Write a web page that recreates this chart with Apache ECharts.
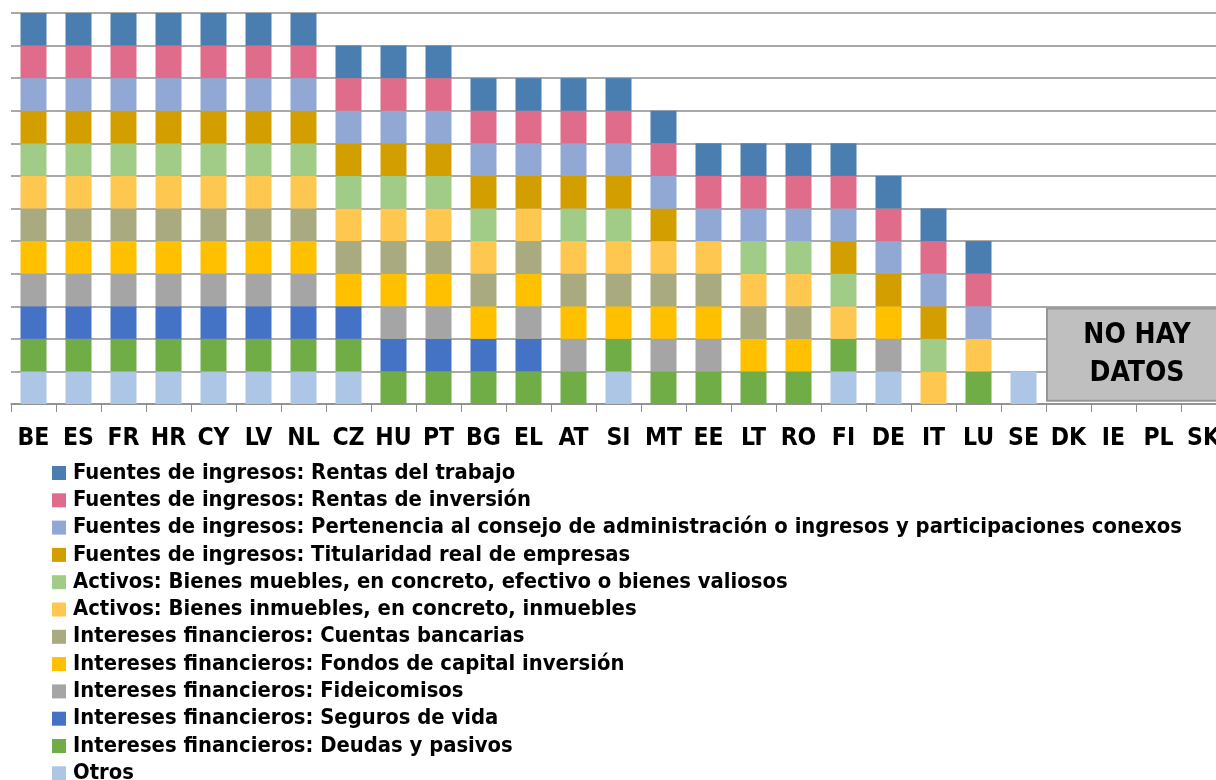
<!DOCTYPE html>
<html>
<head>
<meta charset="utf-8">
<script src="https://cdn.jsdelivr.net/npm/echarts@6/dist/echarts.min.js"></script>
<style>
  html, body { margin: 0; padding: 0; background: #fff; }
  #chart { width: 1216px; height: 780px; }
</style>
</head>
<body>
<div id="chart"></div>
<script>
// Member states, in the order they are shown
const countries = ['BE','ES','FR','HR','CY','LV','NL','CZ','HU','PT','BG','EL','AT','SI','MT','EE','LT','RO','FI','DE','IT','LU','SE','DK','IE','PL','SK'];

// 1 = item covered by the declaration, 0 = not covered (one value per country)
const otros        = [1,1,1,1,1,1,1, 1,0,0,0,0,0,1, 0,0,0,0,1,1,0,0,1, 0,0,0,0];
const deudas       = [1,1,1,1,1,1,1, 1,1,1,1,1,1,1, 1,1,1,1,1,0,0,1,0, 0,0,0,0];
const seguros      = [1,1,1,1,1,1,1, 1,1,1,1,1,0,0, 0,0,0,0,0,0,0,0,0, 0,0,0,0];
const fideicomisos = [1,1,1,1,1,1,1, 0,1,1,0,1,1,0, 1,1,0,0,0,1,0,0,0, 0,0,0,0];
const fondos       = [1,1,1,1,1,1,1, 1,1,1,1,1,1,1, 1,1,1,1,0,1,0,0,0, 0,0,0,0];
const cuentas      = [1,1,1,1,1,1,1, 1,1,1,1,1,1,1, 1,1,1,1,0,0,0,0,0, 0,0,0,0];
const inmuebles    = [1,1,1,1,1,1,1, 1,1,1,1,1,1,1, 1,1,1,1,1,0,1,1,0, 0,0,0,0];
const muebles      = [1,1,1,1,1,1,1, 1,1,1,1,0,1,1, 0,0,1,1,1,0,1,0,0, 0,0,0,0];
const titularidad  = [1,1,1,1,1,1,1, 1,1,1,1,1,1,1, 1,0,0,0,1,1,1,0,0, 0,0,0,0];
const pertenencia  = [1,1,1,1,1,1,1, 1,1,1,1,1,1,1, 1,1,1,1,1,1,1,1,0, 0,0,0,0];
const inversion    = [1,1,1,1,1,1,1, 1,1,1,1,1,1,1, 1,1,1,1,1,1,1,1,0, 0,0,0,0];
const trabajo      = [1,1,1,1,1,1,1, 1,1,1,1,1,1,1, 1,1,1,1,1,1,1,1,0, 0,0,0,0];

// Countries without information
const noData = ['DK','IE','PL','SK'];
const noDataText = 'NO HAY\nDATOS';

// Stack order, bottom to top
const layers = [
  { name: 'Otros', data: otros, color: '#adc6e6' },
  { name: 'Intereses financieros: Deudas y pasivos', data: deudas, color: '#70ad47' },
  { name: 'Intereses financieros: Seguros de vida', data: seguros, color: '#4472c4' },
  { name: 'Intereses financieros: Fideicomisos', data: fideicomisos, color: '#a5a5a5' },
  { name: 'Intereses financieros: Fondos de capital inversión', data: fondos, color: '#ffc000' },
  { name: 'Intereses financieros: Cuentas bancarias', data: cuentas, color: '#a9aa80' },
  { name: 'Activos: Bienes inmuebles, en concreto, inmuebles', data: inmuebles, color: '#fec750' },
  { name: 'Activos: Bienes muebles, en concreto, efectivo o bienes valiosos', data: muebles, color: '#a1cc88' },
  { name: 'Fuentes de ingresos: Titularidad real de empresas', data: titularidad, color: '#d39f00' },
  { name: 'Fuentes de ingresos: Pertenencia al consejo de administración o ingresos y participaciones conexos', data: pertenencia, color: '#91a8d5' },
  { name: 'Fuentes de ingresos: Rentas de inversión', data: inversion, color: '#df6c8a' },
  { name: 'Fuentes de ingresos: Rentas del trabajo', data: trabajo, color: '#4a7eb0' }
];

const FONT = "'DejaVu Sans Condensed', 'DejaVu Sans', sans-serif";

const chart = echarts.init(document.getElementById('chart'), null, { renderer: 'canvas' });

const option = {
  animation: false,
  backgroundColor: '#ffffff',
  grid: { left: 11, top: 13, width: 1215, height: 391, containLabel: false, outerBoundsMode: 'none' },
  legend: {
    orient: 'vertical',
    left: 52,
    top: 462,
    width: 1160,
    height: 400,
    padding: 0,
    itemWidth: 14,
    itemHeight: 14,
    itemGap: 5.3,
    icon: 'rect',
    data: layers.map(l => l.name).reverse(),
    textStyle: { fontFamily: FONT, fontWeight: 'bold', fontSize: 21.8, lineHeight: 16, color: '#000', padding: [0, 0, 0, 2] }
  },
  xAxis: {
    type: 'category',
    data: countries,
    axisLine: { show: true, lineStyle: { color: '#8c8c8c', width: 1.5 } },
    axisTick: { show: true, alignWithLabel: false, length: 8, lineStyle: { color: '#8c8c8c' } },
    axisLabel: { interval: 0, margin: 22, fontFamily: FONT, fontWeight: 'bold', fontSize: 24.5, color: '#000' }
  },
  yAxis: {
    type: 'value',
    min: 0,
    max: 12,
    interval: 1,
    axisLine: { show: false },
    axisTick: { show: false },
    axisLabel: { show: false },
    splitLine: { show: true, lineStyle: { color: '#8c8c8c', width: 1.5 } }
  },
  series: layers.map(l => ({
    name: l.name,
    type: 'bar',
    stack: 'total',
    data: l.data,
    barWidth: 26,
    itemStyle: { color: l.color },
    emphasis: { disabled: true }
  }))
};

chart.setOption(option);

// "no data" panel spanning the countries without information
function placeNoDataBox() {
  const band = chart.convertToPixel({ xAxisIndex: 0 }, countries[1]) - chart.convertToPixel({ xAxisIndex: 0 }, countries[0]);
  const x0 = chart.convertToPixel({ xAxisIndex: 0 }, noData[0]) - band / 2;
  const x1 = chart.convertToPixel({ xAxisIndex: 0 }, noData[noData.length - 1]) + band / 2;
  const yTop = chart.convertToPixel({ yAxisIndex: 0 }, 2.93);
  const yBot = chart.convertToPixel({ yAxisIndex: 0 }, 0.1);
  chart.setOption({
    graphic: [
      {
        type: 'rect',
        shape: { x: x0 + 1, y: yTop, width: x1 - x0, height: yBot - yTop },
        style: { fill: '#bfbfbf', stroke: '#969696', lineWidth: 2 },
        z: 10
      },
      {
        type: 'text',
        x: (x0 + x1) / 2 + 1,
        y: (yTop + yBot) / 2,
        style: {
          text: noDataText,
          fontFamily: FONT,
          fontWeight: 'bold',
          fontSize: 28,
          lineHeight: 38,
          fill: '#000',
          align: 'center',
          verticalAlign: 'middle'
        },
        z: 11
      }
    ]
  });
}
placeNoDataBox();
</script>
</body>
</html>
